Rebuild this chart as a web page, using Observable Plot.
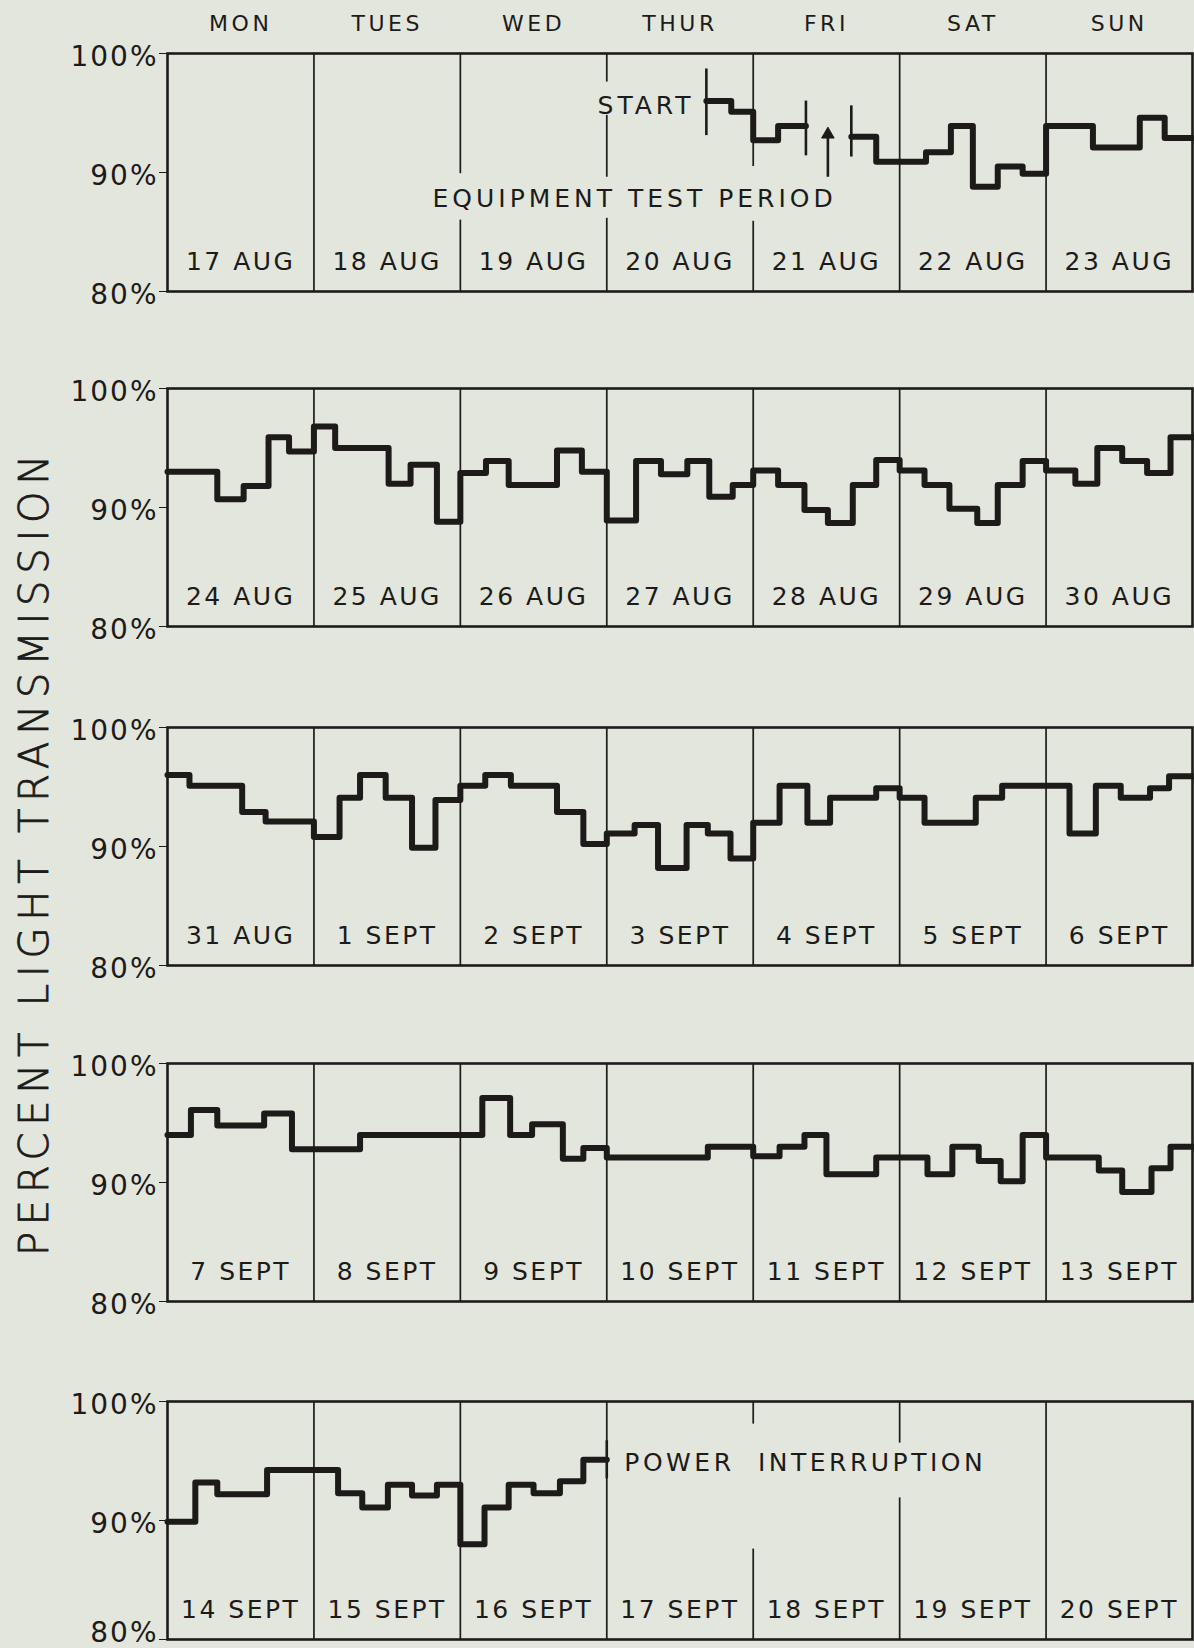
<!DOCTYPE html>
<html>
<head>
<meta charset="utf-8">
<script src="https://cdn.jsdelivr.net/npm/d3@7"></script>
<script src="https://cdn.jsdelivr.net/npm/@observablehq/plot@0.6"></script>
<style>
  html, body { margin: 0; padding: 0; background: #e3e6dd; overflow: hidden; }
  #wrap { position: relative; width: 1194px; height: 1648px; }
  .panel { position: absolute; left: 0; }
  #ytitle {
    position: absolute; left: 34px; top: 852px;
    transform: translate(-50%, -50%) rotate(-90deg);
    white-space: nowrap; font-family: "DejaVu Sans", sans-serif; font-weight: 200;
    font-size: 40px; letter-spacing: 6.8px; color: #1d1b19;
    -webkit-text-stroke: 0.8px #1d1b19;
  }
  g[aria-description="dates"] text { letter-spacing: 2.5px; }
  g[aria-description="days"] text { letter-spacing: 3.5px; }
  g[aria-description="notes"] text { letter-spacing: 4px; }
  g[aria-description="power"] text { letter-spacing: 3.5px; word-spacing: 12px; }
  g[aria-description="ticklabels"] text { letter-spacing: 2px; }
</style>
</head>
<body>
<div id="wrap">
  <div id="ytitle">PERCENT LIGHT TRANSMISSION</div>
</div>
<script>
// ---------- data ----------
const dayNames = ["MON", "TUES", "WED", "THUR", "FRI", "SAT", "SUN"];

const week1Dates = ["17 AUG", "18 AUG", "19 AUG", "20 AUG", "21 AUG", "22 AUG", "23 AUG"];
const week2Dates = ["24 AUG", "25 AUG", "26 AUG", "27 AUG", "28 AUG", "29 AUG", "30 AUG"];
const week3Dates = ["31 AUG", "1 SEPT", "2 SEPT", "3 SEPT", "4 SEPT", "5 SEPT", "6 SEPT"];
const week4Dates = ["7 SEPT", "8 SEPT", "9 SEPT", "10 SEPT", "11 SEPT", "12 SEPT", "13 SEPT"];
const week5Dates = ["14 SEPT", "15 SEPT", "16 SEPT", "17 SEPT", "18 SEPT", "19 SEPT", "20 SEPT"];

// [day of week (0 = Monday 00h), percent transmission] ; each value holds until the next point
const week1a = [[3.68, 96.0], [3.85, 95.1], [4.0, 92.7], [4.17, 93.9], [4.36, 93.9]];
const week1b = [[4.67, 93.0], [4.84, 90.9], [5.18, 91.7], [5.35, 93.9], [5.50, 88.8], [5.67, 90.5],
  [5.84, 89.9], [6.0, 93.9], [6.32, 92.1], [6.64, 94.6], [6.81, 92.9], [7.0, 92.9]];
const week2 = [[0, 93.0], [0.34, 90.7], [0.52, 91.8], [0.69, 95.9], [0.83, 94.7], [1.0, 96.8],
  [1.145, 95.0], [1.51, 92.0], [1.66, 93.6], [1.84, 88.8], [2.0, 92.9], [2.175, 93.9], [2.33, 91.9],
  [2.66, 94.8], [2.83, 93.0], [3.0, 88.9], [3.20, 93.9], [3.37, 92.8], [3.55, 93.9], [3.70, 90.9],
  [3.86, 91.9], [4.0, 93.1], [4.17, 91.9], [4.35, 89.8], [4.51, 88.7], [4.68, 91.9], [4.84, 94.0],
  [5.0, 93.1], [5.17, 91.9], [5.34, 89.9], [5.53, 88.7], [5.67, 91.9], [5.84, 93.9], [6.0, 93.1],
  [6.2, 92.0], [6.35, 95.0], [6.52, 93.9], [6.69, 92.9], [6.85, 95.9], [7.0, 95.9]];
const week3 = [[0, 96.0], [0.15, 95.1], [0.51, 92.9], [0.67, 92.1], [1.0, 90.8], [1.175, 94.1],
  [1.315, 96.0], [1.49, 94.1], [1.67, 89.9], [1.83, 93.9], [2.0, 95.1], [2.17, 96.0], [2.345, 95.1],
  [2.66, 92.9], [2.84, 90.2], [3.0, 91.1], [3.19, 91.8], [3.35, 88.2], [3.545, 91.8], [3.69, 91.1],
  [3.845, 89.0], [4.0, 92.0], [4.18, 95.1], [4.37, 92.0], [4.525, 94.1], [4.84, 94.9], [5.0, 94.1],
  [5.17, 92.0], [5.52, 94.1], [5.70, 95.1], [6.16, 91.1], [6.34, 95.1], [6.51, 94.1], [6.71, 94.9],
  [6.84, 95.9], [7.0, 95.9]];
const week4 = [[0, 94.0], [0.16, 96.1], [0.34, 94.8], [0.66, 95.8], [0.85, 92.8], [1.315, 94.0],
  [2.15, 97.1], [2.34, 94.0], [2.49, 94.9], [2.70, 92.0], [2.84, 92.9], [3.0, 92.1], [3.69, 93.0],
  [4.0, 92.2], [4.18, 93.0], [4.35, 94.0], [4.50, 90.7], [4.84, 92.1], [5.19, 90.7], [5.36, 93.0],
  [5.54, 91.8], [5.69, 90.1], [5.84, 94.0], [6.0, 92.1], [6.36, 91.0], [6.52, 89.2], [6.72, 91.2],
  [6.85, 93.0], [7.0, 93.0]];
const week5 = [[0, 89.9], [0.19, 93.2], [0.34, 92.2], [0.68, 94.25], [1.165, 92.3], [1.33, 91.1],
  [1.505, 93.0], [1.67, 92.1], [1.84, 93.0], [2.0, 88.0], [2.165, 91.1], [2.33, 93.0], [2.50, 92.3],
  [2.68, 93.3], [2.84, 95.1], [3.0, 95.1]];

// vertical marker bars [day, from %, to %]
const week1Markers = [[3.68, 93.1, 98.7], [4.36, 91.4, 96.0], [4.67, 91.3, 95.6]];
const week1Arrow = [[4.51, 89.6, 93.2]];
const week5Markers = [[3.0, 93.5, 96.7]];

// day divider segments [day, from %, to %] (gaps where the original lettering sits)
const dividersFull = [[1, 80, 100], [2, 80, 100], [3, 80, 100], [4, 80, 100], [5, 80, 100], [6, 80, 100]];
const week1Dividers = [[1, 80, 100], [2, 80, 86.0], [2, 89.9, 100], [3, 80, 86.15], [3, 89.6, 94.8],
  [3, 97.6, 100], [4, 80, 85.9], [4, 90.5, 100], [5, 80, 100], [6, 80, 100]];
const week5Dividers = [[1, 80, 100], [2, 80, 100], [3, 80, 100], [4, 80, 87.6], [4, 98.1, 100],
  [5, 80, 91.9], [5, 96.5, 100], [6, 80, 100]];

const week1Notes = [
  {day: 3.6, pct: 95.6, text: "START", anchor: "end"},
  {day: 3.19, pct: 87.8, text: "EQUIPMENT TEST PERIOD", anchor: "middle"}
];
const week5Notes = [{day: 3.12, pct: 94.8, text: "POWER INTERRUPTION", anchor: "start"}];

const yTicks = [80, 90, 100];

// ---------- drawing ----------
const ink = "#1d1b19";
const font = "DejaVu Sans, Liberation Sans, sans-serif";
const wrap = document.getElementById("wrap");
const pct = d => `${d}%`;

function panel({series, dividers, dates, top, marginTop = 20, marginBottom = 20, last = false, extra = []}) {
  const tickText = (ticks, dy) => Plot.text(ticks, {x: () => 0, y: d => d, text: pct, textAnchor: "end",
    dx: -9, dy, fontSize: 28, fill: ink, ariaDescription: "ticklabels"});
  const marks = [
    tickText(last ? [90, 100] : yTicks, 4),
    ...(last ? [tickText([80], -6)] : []),
    Plot.ruleX(dividers, {x: d => d[0], y1: d => d[1], y2: d => d[2], stroke: ink, strokeWidth: 1.7}),
    Plot.frame({stroke: ink, strokeWidth: 2.6}),
    Plot.text(dates, {x: (d, i) => i + 0.5, y: () => 82.5, text: d => d, fontSize: 25,
      fill: ink, ariaDescription: "dates"}),
    ...series.map(s => Plot.line(s, {x: d => d[0], y: d => d[1], curve: "step-after",
      stroke: ink, strokeWidth: 6, strokeLinejoin: "round"})),
    ...extra
  ];
  const chart = Plot.plot({
    width: 1194,
    height: 238 + marginTop + marginBottom,
    marginLeft: 167, marginRight: 2, marginTop, marginBottom,
    x: {domain: [0, 7], axis: null},
    y: {domain: [80, 100], ticks: yTicks, tickFormat: () => "", tickSize: 8, label: null},
    style: {background: "transparent", fontFamily: font, fontSize: "28px", color: ink, overflow: "visible"},
    marks
  });
  chart.classList.add("panel");
  chart.style.top = `${top - marginTop}px`;
  wrap.appendChild(chart);
}

const noteMarks = (notes, label) => ["end", "middle", "start"].map(a =>
  Plot.text(notes.filter(d => d.anchor === a), {x: "day", y: "pct", text: "text", textAnchor: a,
    fontSize: 25, fill: ink, ariaDescription: label}));

const markerMarks = m => Plot.ruleX(m, {x: d => d[0], y1: d => d[1], y2: d => d[2], stroke: ink, strokeWidth: 2.6});

panel({
  series: [week1a, week1b], dividers: week1Dividers, dates: week1Dates, top: 53, marginTop: 53,
  extra: [
    Plot.text(dayNames, {x: (d, i) => i + 0.5, y: () => 100, dy: -30, text: d => d, fontSize: 22,
      fill: ink, ariaDescription: "days"}),
    markerMarks(week1Markers),
    Plot.ruleX(week1Arrow, {x: d => d[0], y1: d => d[1], y2: d => d[2], stroke: ink, strokeWidth: 2.6}),
    Plot.dot(week1Arrow, {x: d => d[0], y: d => d[2], symbol: "triangle2", r: 6, fill: ink, stroke: ink,
      strokeWidth: 1}),
    ...noteMarks(week1Notes, "notes")
  ]
});
panel({series: [week2], dividers: dividersFull, dates: week2Dates, top: 388});
panel({series: [week3], dividers: dividersFull, dates: week3Dates, top: 727});
panel({series: [week4], dividers: dividersFull, dates: week4Dates, top: 1063});
panel({
  series: [week5], dividers: week5Dividers, dates: week5Dates, top: 1401, marginBottom: 8, last: true,
  extra: [markerMarks(week5Markers), ...noteMarks(week5Notes, "power")]
});
</script>
</body>
</html>
